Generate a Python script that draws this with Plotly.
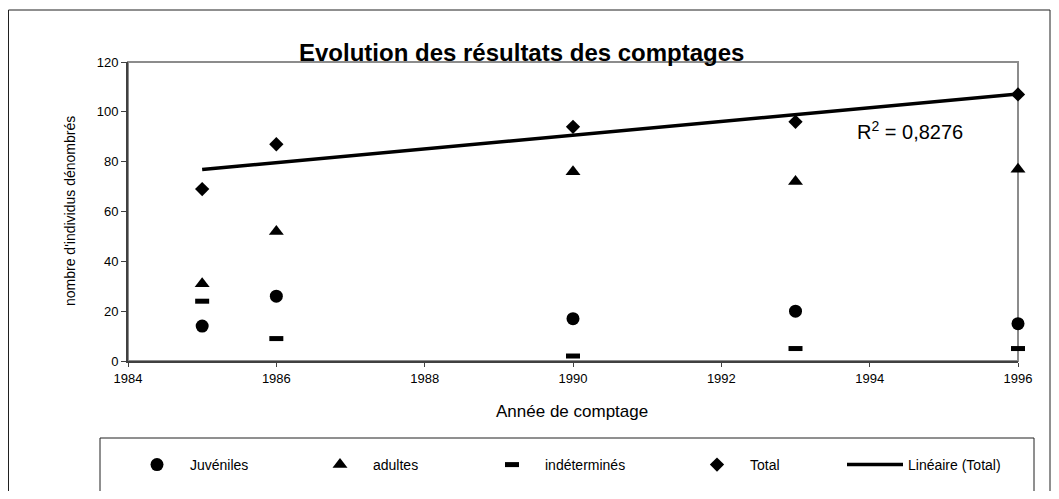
import numpy as np
import plotly.graph_objects as go

# ---- data ----
years = [1985, 1986, 1990, 1993, 1996]
juveniles = [14, 26, 17, 20, 15]
adultes = [31, 52, 76, 72, 77]
indetermines = [24, 9, 2, 5, 5]
total = [69, 87, 94, 96, 107]

x_ticks = [1984, 1986, 1988, 1990, 1992, 1994, 1996]
y_ticks = [0, 20, 40, 60, 80, 100, 120]

title_text = "Evolution des résultats des comptages"
x_title = "Année de comptage"
y_title = "nombre d'individus dénombrés"

# ---- geometry helpers (reference pixel -> paper); page body has 8px margin ----
OFF = 8
W, H = 1059 - 2 * OFF, 499 - 2 * OFF
def px(x):
    return (x - OFF) / W
def py(y):
    return 1 - (y - OFF) / H

FONT = "Liberation Sans, Arial, sans-serif"

# linear trend on totals
slope, intercept = np.polyfit(years, total, 1)
trend_x = [min(years), max(years)]
trend_y = [slope * v + intercept for v in trend_x]
pred = np.polyval([slope, intercept], years)
ss_res = float(np.sum((np.array(total) - pred) ** 2))
ss_tot = float(np.sum((np.array(total) - np.mean(total)) ** 2))
r2 = 1 - ss_res / ss_tot
r2_text = "R<sup>2</sup> = " + f"{r2:.4f}".replace(".", ",")

fig = go.Figure()
fig.add_trace(go.Scatter(x=years, y=juveniles, mode="markers", name="Juvéniles",
                         marker=dict(symbol="circle", size=13, color="black"),
                         cliponaxis=False, legend="legend"))
fig.add_trace(go.Scatter(x=years, y=adultes, mode="markers", name="adultes",
                         marker=dict(symbol="triangle-up", size=13, color="black"),
                         cliponaxis=False, legend="legend2"))
fig.add_trace(go.Scatter(x=years, y=indetermines, mode="markers", name="indéterminés",
                         marker=dict(symbol="line-ew", size=10, color="black",
                                     line=dict(width=5, color="black")),
                         cliponaxis=False, legend="legend3"))
fig.add_trace(go.Scatter(x=years, y=total, mode="markers", name="Total",
                         marker=dict(symbol="diamond", size=11, color="black"),
                         cliponaxis=False, legend="legend4"))
fig.add_trace(go.Scatter(x=trend_x, y=trend_y, mode="lines", name="Linéaire (Total)",
                         line=dict(color="black", width=3.5),
                         cliponaxis=False, legend="legend5"))

def leg(sym_px):
    return dict(x=px(sym_px - 33), xanchor="left", y=py(465), yanchor="middle",
                orientation="h", itemwidth=56, bgcolor="rgba(0,0,0,0)",
                font=dict(family=FONT, size=14, color="black"))

plot_l, plot_r, plot_t, plot_b = 128, 1018, 62, 361

fig.update_layout(
    width=W, height=H,
    margin=dict(l=0, r=0, t=0, b=0),
    paper_bgcolor="white", plot_bgcolor="white",
    showlegend=True,
    legend=leg(157), legend2=leg(340), legend3=leg(512),
    legend4=leg(717), legend5=leg(875),
    xaxis=dict(domain=[px(plot_l), px(plot_r)], range=[1984, 1996],
               tickvals=x_ticks, ticktext=[str(v) for v in x_ticks],
               ticks="outside", ticklen=4, tickcolor="#404040", tickwidth=1,
               showline=True, linecolor="#404040", linewidth=2,
               showgrid=False, zeroline=False, automargin=False,
               tickfont=dict(family=FONT, size=13, color="black")),
    yaxis=dict(domain=[py(plot_b), py(plot_t)], range=[0, 120],
               tickvals=y_ticks, ticks="outside", ticklen=5, tickcolor="#404040",
               tickwidth=1, showline=True, linecolor="#404040", linewidth=2,
               showgrid=False, zeroline=False, automargin=False,
               tickfont=dict(family=FONT, size=13, color="black")),
    shapes=[
        # outer chart frame
        dict(type="rect", xref="paper", yref="paper", x0=px(8.5), x1=px(1050),
             y0=py(520), y1=py(10), line=dict(color="#202020", width=1), layer="below"),
        # plot area frame (gray top / right)
        dict(type="rect", xref="paper", yref="paper", x0=px(plot_l), x1=px(plot_r),
             y0=py(plot_b), y1=py(plot_t), line=dict(color="#8c8c8c", width=2), layer="below"),
        # legend frame
        dict(type="rect", xref="paper", yref="paper", x0=px(100), x1=px(1034),
             y0=py(520), y1=py(438), line=dict(color="#202020", width=1), layer="below"),
    ],
    annotations=[
        dict(text="<b>" + title_text + "</b>", xref="paper", yref="paper",
             x=px(521), y=py(52), xanchor="center", yanchor="middle", showarrow=False,
             font=dict(family=FONT, size=24, color="black")),
        dict(text=y_title, xref="paper", yref="paper", x=px(70), y=py(211),
             xanchor="center", yanchor="middle", textangle=-90, showarrow=False,
             font=dict(family=FONT, size=14, color="black")),
        dict(text=x_title, xref="paper", yref="paper", x=px(572), y=py(411),
             xanchor="center", yanchor="middle", showarrow=False,
             font=dict(family=FONT, size=17, color="black")),
        dict(text=r2_text, xref="paper", yref="paper", x=px(910), y=py(130),
             xanchor="center", yanchor="middle", showarrow=False,
             font=dict(family=FONT, size=20, color="black")),
    ],
)

fig.write_html("out.html")
